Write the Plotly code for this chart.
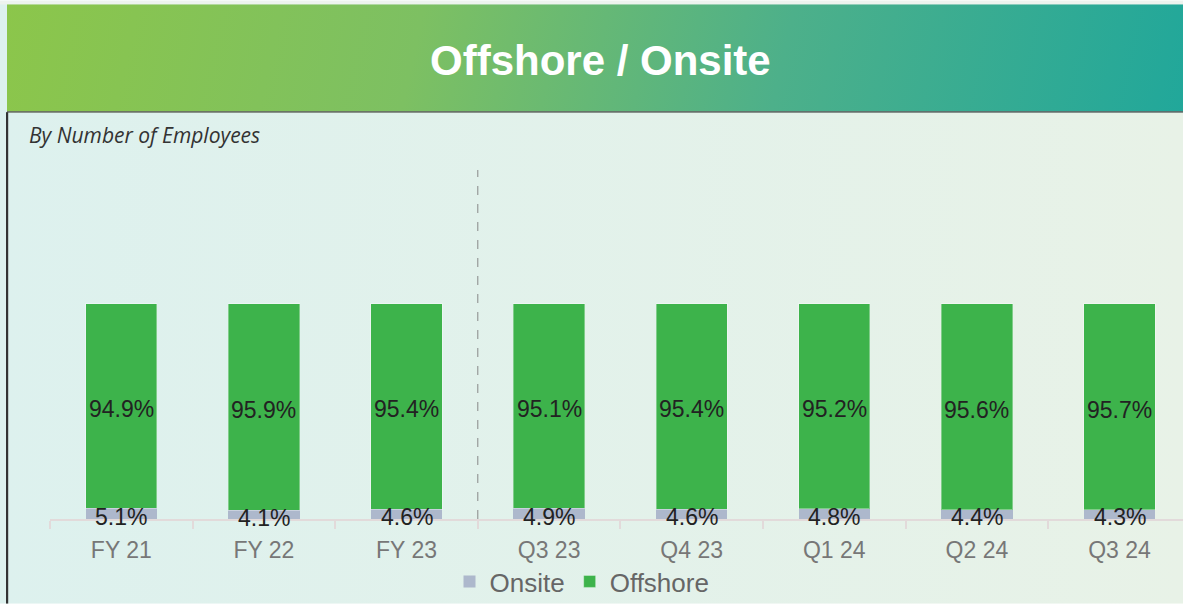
import base64
import plotly.graph_objects as go

categories = ["FY 21", "FY 22", "FY 23", "Q3 23", "Q4 23", "Q1 24", "Q2 24", "Q3 24"]
onsite = [5.1, 4.1, 4.6, 4.9, 4.6, 4.8, 4.4, 4.3]
offshore = [94.9, 95.9, 95.4, 95.1, 95.4, 95.2, 95.6, 95.7]

W, H = 1183, 605
L, R, T, B = 50, 0, 170, 85
PW, PH = W - L - R, H - T - B


def px_x(px):
    return (px - L) / PW


def px_y(py):
    return (H - B - py) / PH


GREEN = "#3DB34B"
GREY = "#ADB8CC"

svg = f'''<svg xmlns="http://www.w3.org/2000/svg" width="{W}" height="{H}" viewBox="0 0 {W} {H}" preserveAspectRatio="none">
<defs>
<linearGradient id="bg" x1="0" y1="0" x2="1" y2="0">
<stop offset="0" stop-color="#DDF1EE"/><stop offset="1" stop-color="#E8F2E7"/>
</linearGradient>
<linearGradient id="ban" gradientUnits="userSpaceOnUse" x1="7" y1="-60" x2="1183" y2="200">
<stop offset="0" stop-color="#8CC64A"/><stop offset="0.35" stop-color="#7DC062"/>
<stop offset="0.65" stop-color="#4DB08A"/><stop offset="1" stop-color="#1FA79B"/>
</linearGradient>
</defs>
<rect x="0" y="0" width="{W}" height="{H}" fill="url(#bg)"/>
<rect x="0" y="0" width="{W}" height="4" fill="#EDF3EE"/>
<rect x="7" y="4" width="{W-7}" height="108" fill="url(#ban)"/>
<rect x="7" y="111" width="{W-7}" height="1.5" fill="#666666"/>
<rect x="6" y="112" width="2.2" height="{H-112}" fill="#333333"/>
</svg>'''
src = "data:image/svg+xml;base64," + base64.b64encode(svg.encode()).decode()

fig = go.Figure()
fig.add_trace(go.Bar(x=categories, y=onsite, name="Onsite", marker=dict(color=GREY, line=dict(width=0)),
                     width=0.5, hoverinfo="skip"))
fig.add_trace(go.Bar(x=categories, y=offshore, name="Offshore",
                     marker=dict(color=GREEN, line=dict(width=1, color="rgba(255,255,255,0.35)")),
                     width=0.5, hoverinfo="skip"))

label_font = dict(family="Arial", size=23, color="#222222")
for c, o, f in zip(categories, onsite, offshore):
    fig.add_annotation(x=c, y=o + f / 2, text=f"{f:.1f}%", showarrow=False, yanchor="middle",
                       yshift=-3, font=label_font)
    fig.add_annotation(x=c, y=o / 2, text=f"{o:.1f}%", showarrow=False, yanchor="middle",
                       yshift=-3, font=label_font)

fig.add_shape(type="line", xref="x", yref="paper", x0=2.5, x1=2.5, y0=0, y1=1,
              line=dict(color="#888888", width=1, dash="dash"), layer="below")

fig.add_layout_image(dict(source=src, xref="paper", yref="paper", x=px_x(0), y=px_y(0),
                          sizex=W / PW, sizey=H / PH, xanchor="left", yanchor="top",
                          sizing="stretch", layer="below"))

fig.add_annotation(text="<b>Offshore / Onsite</b>", xref="paper", yref="paper", x=px_x(600), y=px_y(60),
                   xanchor="center", yanchor="middle",
                   showarrow=False, font=dict(family="Arial", size=42, color="white"))
fig.add_annotation(text="<i>By Number of Employees</i>", xref="paper", yref="paper", x=px_x(27), y=px_y(135),
                   xanchor="left", yanchor="middle", showarrow=False,
                   font=dict(family="Open Sans", size=21, color="#333333"))

fig.update_layout(
    width=W, height=H,
    margin=dict(l=L, r=R, t=T, b=B, pad=0),
    barmode="stack",
    paper_bgcolor="rgba(0,0,0,0)", plot_bgcolor="rgba(0,0,0,0)",
    xaxis=dict(range=[-0.5, -0.5 + PW / 142.6], showgrid=False, showline=True, linecolor="#E2DADA",
               linewidth=2, ticks="outside", tickson="boundaries", ticklen=8, tickcolor="#E2DADA",
               tickwidth=2, ticklabelstandoff=9,
               tickfont=dict(family="Arial", size=23, color="#777777"), fixedrange=True),
    yaxis=dict(range=[0, PH / 216 * 100], visible=False, fixedrange=True),
    legend=dict(orientation="h", x=px_x(582), y=px_y(583), xanchor="center", yanchor="middle",
                traceorder="normal", font=dict(family="Arial", size=26, color="#666666"),
                bgcolor="rgba(0,0,0,0)", itemwidth=30),
    showlegend=True,
)

fig.write_html("out.html", config={"displayModeBar": False},
               post_script="document.body.style.margin='0';document.body.style.overflow='hidden';")
